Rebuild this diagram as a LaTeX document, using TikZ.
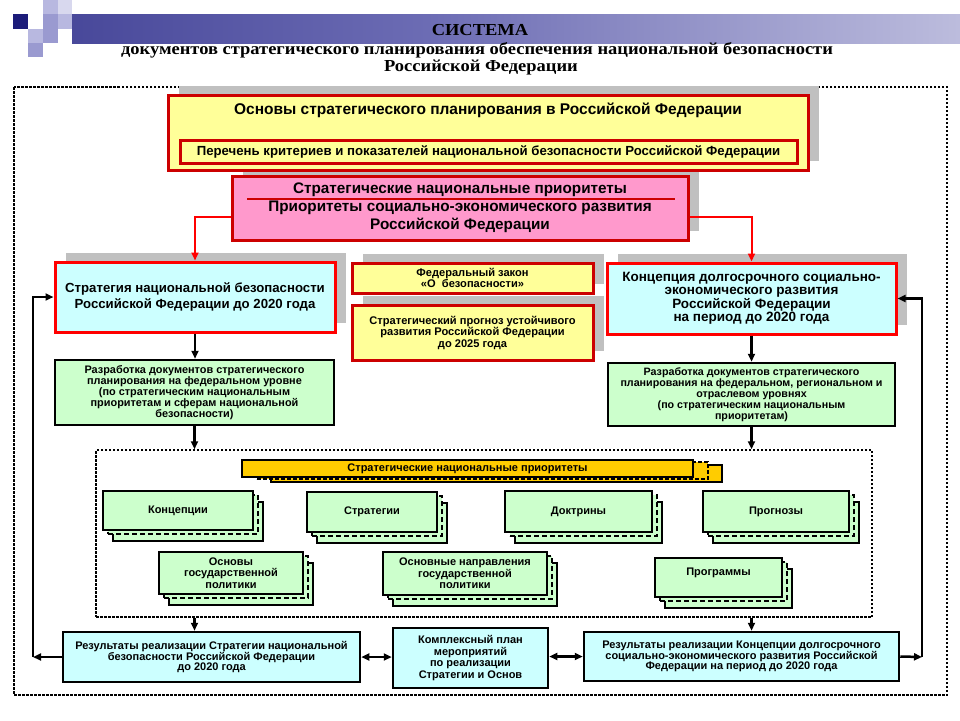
\documentclass[tikz,border=0pt]{standalone}
\usepackage{fontspec}
\setmainfont{Liberation Serif}
\newfontfamily\arialf{Liberation Sans}
\newfontfamily\ttlf{Liberation Serif}[FakeStretch=1.1]
\usepackage{tikz}
\usetikzlibrary{arrows.meta,shadows,positioning}
\tikzset{>/.tip={Triangle[length=8pt,width=7pt]}}
\definecolor{yfill}{HTML}{FFFF99}
\definecolor{pfill}{HTML}{FF99CC}
\definecolor{bfill}{HTML}{CCFFFF}
\definecolor{gfill}{HTML}{CCFFCC}
\definecolor{ofill}{HTML}{FFCC00}
\definecolor{dred}{HTML}{CC0000}
\definecolor{shgray}{HTML}{C0C0C0}
\definecolor{navyA}{HTML}{1C1C7A}
\definecolor{midA}{HTML}{6C6CB4}
\definecolor{lavA}{HTML}{9A9AD0}
\definecolor{lavB}{HTML}{B8B8E0}
\definecolor{lavC}{HTML}{D8D8EE}
\pgfdeclarehorizontalshading{titlebar}{100bp}{color(0bp)=(navyA); color(45bp)=(midA); color(100bp)=(white)}
\newcommand\fs[2]{\fontsize{#1}{#2}\selectfont}
\tikzset{
  ttl/.style={font=\ttlf\bfseries\fs{16.8}{17},inner sep=0pt},
  txt/.style={font=\arialf\bfseries\fs#1},
  box/.style={rectangle,draw,align=center,inner sep=1pt,line width=2.5pt},
  ybox/.style={box,fill=yfill,draw=dred,line width=3pt},
  pbox/.style={box,fill=pfill,draw=dred,line width=3pt},
  bbox/.style={box,fill=bfill,draw=red,line width=3pt},
  gbox/.style={box,fill=gfill},
  rbox/.style={box,fill=bfill},
  obox/.style={box,fill=ofill,line width=2pt},
  shad/.style={drop shadow={shadow xshift=11pt,shadow yshift=9pt,fill=shgray,opacity=1}},
  stack/.style={copy shadow={shadow xshift=10pt,shadow yshift=-11pt,fill=gfill,draw=black,line width=2pt},
    copy shadow={shadow xshift=5pt,shadow yshift=-4pt,fill=gfill,draw=black,line width=2pt,dash pattern=on 5pt off 3pt}},
  ostack/.style={copy shadow={shadow xshift=29pt,shadow yshift=-5pt,fill=ofill,draw=black,line width=2pt},
    copy shadow={shadow xshift=15pt,shadow yshift=-2pt,fill=ofill,draw=black,line width=2pt,dash pattern=on 4pt off 2pt}},
  dotline/.style={line width=1.5pt,dash pattern=on 2.5pt off 1.5pt},
  arr/.style={->,line width=2.5pt},
  rarr/.style={->,red,line width=2pt},
}
\begin{document}
\begin{tikzpicture}[x=1pt,y=-1pt]
\useasboundingbox (0,0) rectangle (960,720);
% header
\fill[navyA] (13,14) rectangle (28,29);
\fill[lavB] (43,0) rectangle (58,14);
\fill[lavC] (58,0) rectangle (72,14);
\fill[lavA] (43,14) rectangle (58,29);
\fill[lavB] (58,14) rectangle (72,29);
\fill[lavB] (28,29) rectangle (43,43);
\fill[lavA] (43,29) rectangle (58,43);
\fill[lavA] (28,43) rectangle (43,57);
\shade[shading=titlebar] (72,14) rectangle (960,43);
\node[ttl,anchor=base] (sys) at (480,35) {СИСТЕМА};
\node[ttl,anchor=base] (sys2) at (477,54) {документов стратегического планирования обеспечения национальной безопасности};
\node[ttl,anchor=base] (sys3) at (481,71) {Российской Федерации};
\draw[dotline] (14,87) rectangle (947,695);

% top level
\node[pbox,shad,txt={15.3}{18},minimum width=456pt,minimum height=64pt] (prior) at (460,208)
  {Стратегические национальные приоритеты\\Приоритеты социально-экономического развития\\Российской Федерации};
\draw[dred,line width=1.5pt] (247,199) -- (675,199);
\node[ybox,shad,minimum width=640pt,minimum height=75pt] (osn) at (488,132.5) {};
\node[txt={15.5}{17}] (osnT) at (488,110) {Основы стратегического планирования в Российской Федерации};
\node[ybox,txt={13.2}{14},minimum width=617pt,minimum height=23pt] (perech) at (488.5,151.5)
  {Перечень критериев и показателей национальной безопасности Российской Федерации};

% second level
\node[bbox,shad,txt={13.2}{16},minimum width=280pt,minimum height=70pt] (strat) at (195,297)
  {Стратегия национальной безопасности\\Российской Федерации до 2020 года};
\node[bbox,shad,txt={13.5}{13.5},minimum width=289pt,minimum height=71pt] (konts) at (751.5,298.5)
  {Концепция долгосрочного социально-\\экономического развития\\Российской Федерации\\на период до 2020 года};
\node[ybox,shad,txt={11.1}{11.5},minimum width=241pt,minimum height=30pt] (zakon) at (472.5,278)
  {Федеральный закон\\«О~~безопасности»};
\node[ybox,shad,txt={11.1}{11.5},minimum width=241pt,minimum height=55pt] (progn) at (472.5,332.5)
  {Стратегический прогноз устойчивого\\развития Российской Федерации\\до 2025 года};

\node[gbox,txt={10.9}{11},minimum width=279pt,minimum height=65pt] (razrL) at (194.5,392.5)
  {Разработка документов стратегического\\планирования на федеральном уровне\\(по стратегическим национальным\\приоритетам и сферам национальной\\безопасности)};
\node[gbox,txt={10.7}{11},minimum width=287pt,minimum height=63pt] (razrR) at (751.5,394.5)
  {Разработка документов стратегического\\планирования на федеральном, региональном и\\отраслевом уровнях\\(по стратегическим национальным\\приоритетам)};

% documents
\node[box,dotline,minimum width=776pt,minimum height=167pt] (sfera) at (484,533.5) {};
\node[obox,ostack,txt={11}{11},minimum width=451pt,minimum height=17pt,inner sep=0pt] (snp) at (467.5,468.5)
  {Стратегические национальные приоритеты};
\node[gbox,stack,txt={11}{11.5},minimum width=150pt,minimum height=39pt] (konc) at (178,510.5) {Концепции};
\node[gbox,stack,txt={11}{11.5},minimum width=130pt,minimum height=40pt] (strg) at (372,512) {Стратегии};
\node[gbox,stack,txt={11}{11.5},minimum width=147pt,minimum height=41pt] (doktr) at (578.5,511.5) {Доктрины};
\node[gbox,stack,txt={11}{11.5},minimum width=146pt,minimum height=41pt] (prgz) at (776,511.5) {Прогнозы};
\node[gbox,stack,txt={11}{11.5},minimum width=144pt,minimum height=42pt] (osnpol) at (231,573)
  {Основы\\государственной\\политики};
\node[gbox,stack,txt={11}{11.5},minimum width=164pt,minimum height=43pt] (napr) at (465,573.5)
  {Основные направления\\государственной\\политики};
\node[gbox,stack,txt={11}{11.5},minimum width=127pt,minimum height=39pt] (progr) at (718.5,577.5)
  {Программы\\\mbox{}};

% results
\node[rbox,txt={11}{10.8},minimum width=297pt,minimum height=50pt] (resL) at (211.5,657)
  {Результаты реализации Стратегии национальной\\безопасности Российской Федерации\\до 2020 года};
\node[rbox,txt={11}{11.5},minimum width=155pt,minimum height=60pt] (plan) at (470.5,658)
  {Комплексный план\\мероприятий\\по реализации\\Стратегии и Основ};
\node[rbox,txt={11}{10.8},minimum width=315pt,minimum height=49pt] (resR) at (741.5,656.5)
  {Результаты реализации Концепции долгосрочного\\социально-экономического развития Российской\\Федерации на период до 2020 года};

% connectors
\draw[rarr] ([yshift=-9pt]prior.west) -| (strat.north);
\draw[rarr] ([yshift=-9pt]prior.east) -| (konts.north);
\draw[arr] (strat.south) -- (strat.south |- razrL.north);
\draw[arr] (konts.south) -- (konts.south |- razrR.north);
\draw[arr] (razrL.south) -- (razrL.south |- sfera.north);
\draw[arr] (razrR.south) -- (razrR.south |- sfera.north);
\draw[arr] (razrL.south |- sfera.south) -- (razrL.south |- resL.north);
\draw[arr] (razrR.south |- sfera.south) -- (razrR.south |- resR.north);
\draw[arr,<->] (resL.east) -- (resL.east -| plan.west);
\draw[arr,<->] (resR.west -| plan.east) -- (resR.west);
\coordinate (fbL) at (33,657);
\coordinate (fbR) at (922,657);
\draw[arr] (resL.west) -- (fbL);
\draw[arr] (fbL) |- (strat.west);
\draw[arr] (resR.east) -- (fbR);
\draw[arr] (fbR) |- (konts.east);
\end{tikzpicture}
\end{document}
